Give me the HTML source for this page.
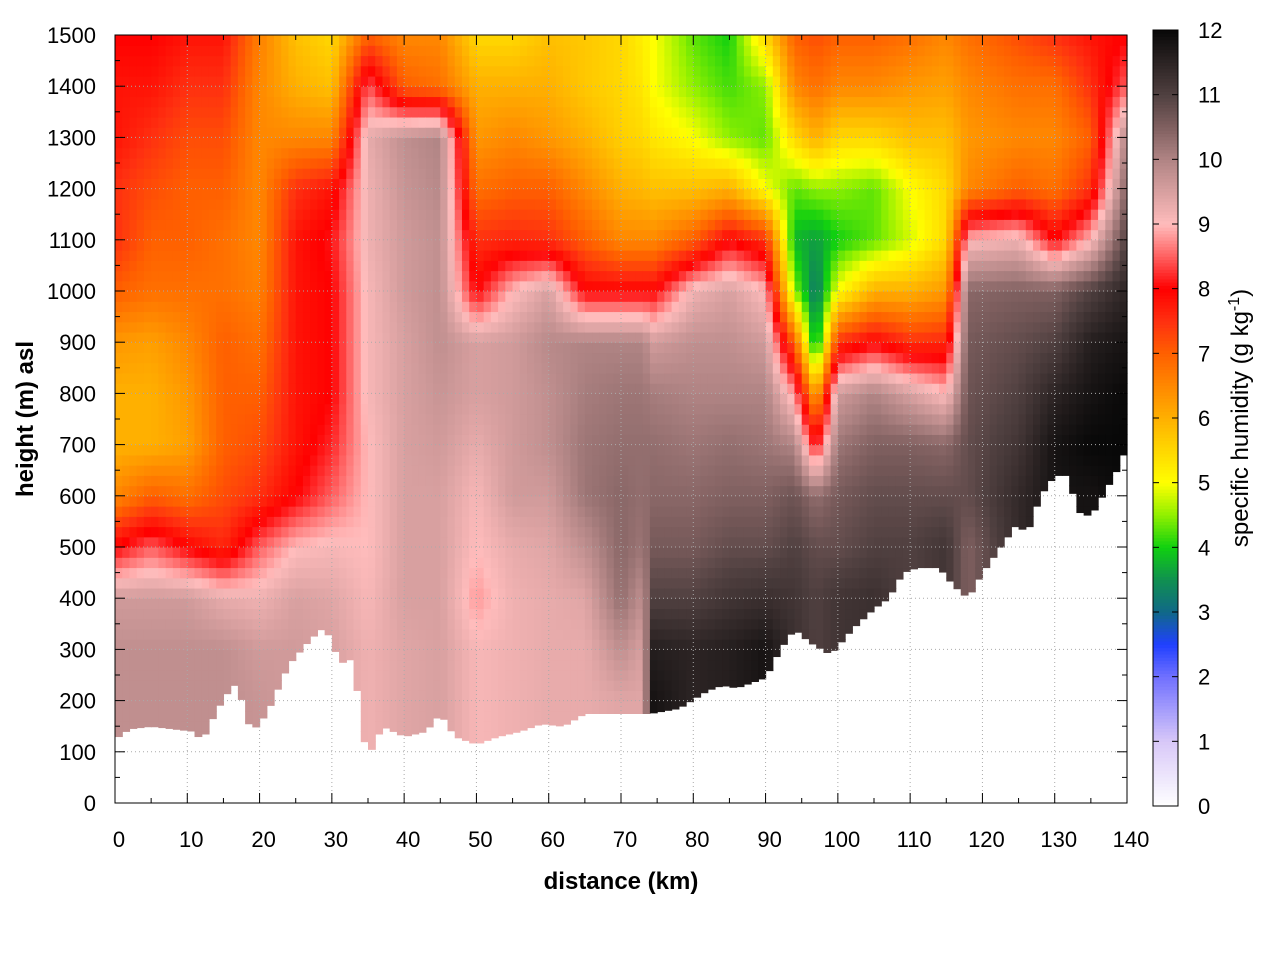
<!DOCTYPE html>
<html><head><meta charset="utf-8">
<style>
body{margin:0;background:#fff;}
svg{display:block;font-family:"Liberation Sans",sans-serif;}
</style></head>
<body>
<svg id="chart" width="1280" height="960" viewBox="0 0 1280 960" xmlns="http://www.w3.org/2000/svg">
<rect width="1280" height="960" fill="#fff"/>
<g id="cells"></g>
<g id="grid"></g>
<g id="axes"></g>
<g id="cbar"></g>
<text x="621" y="889" font-size="24" font-weight="bold" text-anchor="middle">distance (km)</text>
<text transform="translate(33,419) rotate(-90)" font-size="24" font-weight="bold" text-anchor="middle">height (m) asl</text>
<text transform="translate(1248,418) rotate(-90)" font-size="24" text-anchor="middle">specific humidity (g kg<tspan dy="-9" font-size="16">-1</tspan><tspan dy="9">)</tspan></text>
</svg>
<script>
const colX = [0,5,10,15,20,25,30,35,40,45,50,55,60,65,70,73,74.5,80,85,90,94,97,100,105,110,115,118,125,130,135,140];
const levels = [100,200,300,400,500,600,700,800,900,1000,1100,1200,1300,1400,1500];
const q = [
[9.8,9.8,9.8,9.6,8,6.5,6,6,6.3,7,7.5,7.5,7.8,7.8,8],
[9.8,9.8,9.8,9.6,8.5,7,6,6,6.2,6.8,7,7.2,7.5,7.8,8],
[9.8,9.8,9.8,9.6,8,6.8,6.2,6.3,6.5,6.8,7,7,7.2,7.5,7.8],
[9.8,9.8,9.8,9.3,7.6,7.2,7,7,7,6.8,6.8,7,7.2,7.5,7.8],
[9.7,9.7,9.6,9.2,8.5,7.5,7.2,7,6.8,6.6,6.5,6.5,6.5,6.5,6.6],
[9.6,9.6,9.6,9.5,9,8,7.8,7.8,7.8,7.8,7.8,7.5,6.5,6,5.8],
[9.5,9.5,9.5,9.4,9.1,8.5,8.2,8,8,8,8.1,7.8,6.5,5.8,5.5],
[9.2,9.2,9.2,9.1,9,9,9,9.1,9.1,9.1,9.2,9.2,9.3,8.5,7],
[9.4,9.4,9.4,9.5,9.5,9.5,9.5,9.5,9.5,9.6,9.6,9.7,9.8,7,6.5],
[9.5,9.5,9.5,9.5,9.5,9.5,9.6,9.7,9.8,9.8,9.8,9.9,10,6.8,6.5],
[9.1,9.1,9.1,8.8,9,9.1,9.3,9.5,9.5,8,7.5,6.8,6.3,6,5.5],
[9.2,9.2,9.2,9.2,9.3,9.6,9.6,9.6,9.6,9,7.6,7,6.5,6,5.5],
[9.3,9.3,9.3,9.3,9.4,9.6,9.8,9.8,9.9,9.5,7.5,7,6.3,6,5.8],
[9.3,9.3,9.3,9.4,9.8,10.2,10.2,10.1,10,8,7,6.5,6,5.7,5.7],
[9.4,9.4,9.8,10.3,10.4,10.4,10.3,10.2,10,8,6.5,6,5.6,5.5,5.5],
[9.4,9.4,9.5,9.8,10.2,10.3,10.3,10.2,10,8,6.5,5.9,5.5,5.3,5.2],
[11.8,11.8,11.6,11,10.6,10.4,10.3,10.1,9.6,8,6.5,5.8,5.3,5,5],
[11.5,11.5,11.5,11,10.6,10.4,10.2,10,9.8,9.2,7,5.8,5,4.5,4.3],
[11.6,11.6,11.6,11.2,10.8,10.5,10.3,10,9.8,9.5,8,6,4.5,4.2,4],
[11.8,11.8,11.8,11.3,10.8,10.5,10.2,10,9.6,9,7.5,5,4.3,4.5,5.5],
[11.3,11.3,11.3,11.2,11,10.7,10,8.8,7,4.5,3.8,4.3,5.5,6.5,7],
[11,11,11,11,10.8,10.3,8,6,3.5,3.2,3.6,4.5,6,6.8,7.2],
[11.2,11.2,11.2,11.2,10.8,10.6,10.2,9.6,7.5,5,4,4.5,5.5,6.5,7],
[11.3,11.3,11.3,11.3,11,10.8,10.5,10,8,6,4.3,4.3,5.5,6.5,7],
[11,11,11,11,11,10.8,10.5,9.5,7.5,6,4.8,5,5.8,6.3,6.8],
[11.2,11.2,11.2,11.2,11.2,10.8,10.4,9,7.6,6.3,5.5,5.5,5.8,6.2,6.5],
[10.5,10.5,10.5,10.5,10.5,10.8,10.8,10.7,10.6,10.4,9,6.5,6.3,6.5,6.8],
[11.4,11.4,11.4,11.4,11.4,11.4,11.2,11,10.8,10.5,9.2,7,6.5,6.8,7.2],
[11.8,11.8,11.8,11.8,11.8,11.8,11.8,11.5,11,10.5,8,6.8,6.5,6.8,7.5],
[11.8,11.8,11.8,11.8,11.8,11.8,12,11.8,11.6,11,9,7.5,7,7.5,7.8],
[12,12,12,12,12,12,12,12,11.8,11.5,11,10.5,10,8.5,8]
];
const groundX = [0,2,5,8,11,12,14,16,17,18,19,21,24,27,29,31,32,33,34,35,37,40,43,45,47,50,53,56,59,62,65,68,71,74,78,82,84,86,90,92,94,96,99,102,105,107,109,111,114,116,118,120,122,125,126,128,130,132,133,135,137,139,140];
const groundH = [125,145,150,145,140,120,180,225,235,170,140,175,270,320,345,280,270,290,150,90,150,130,140,175,130,115,130,140,155,150,175,175,175,175,185,220,230,225,245,300,340,315,290,340,380,400,450,460,460,425,400,450,490,550,520,600,640,640,570,560,610,660,700];
const xTicks = [0,10,20,30,40,50,60,70,80,90,100,110,120,130,140];
const yTicks = [0,100,200,300,400,500,600,700,800,900,1000,1100,1200,1300,1400,1500];
const cbTicks = [0,1,2,3,4,5,6,7,8,9,10,11,12];
const cmapV = [0,1,2,2.5,3,3.5,4,4.5,5,6,7,7.5,8,8.5,9,9.5,10,10.5,11,12];
const cmapC = ["#ffffff","#d8c8f8","#7070ff","#2040ff","#106888","#109050","#10d010","#90f000","#ffff00","#ffb000","#ff6000","#ff3010","#ff0000","#ff6060","#ffbcbc","#d8a0a0","#b08484","#806060","#504040","#080808"];

const X0=115,X1=1127,Y0=803,Y1=35;
const sx=v=>X0+(v/140)*(X1-X0);
const sy=v=>Y0-(v/1500)*(Y0-Y1);
const NS="http://www.w3.org/2000/svg";
function mk(t,a,p){const e=document.createElementNS(NS,t);for(const k in a)e.setAttribute(k,a[k]);p.appendChild(e);return e;}
function hex(c){return [1,3,5].map(i=>parseInt(c.substr(i,2),16));}
function color(v){
  v=Math.max(0,Math.min(12,v));
  for(let i=0;i<cmapV.length-1;i++){
    if(v<=cmapV[i+1]){const t=(v-cmapV[i])/(cmapV[i+1]-cmapV[i]);const a=hex(cmapC[i]),b=hex(cmapC[i+1]);
      return "rgb("+a.map((x,j)=>Math.round(x+(b[j]-x)*t)).join(",")+")";}
  }
  return cmapC[cmapC.length-1];
}
function interp1(xs,ys,x){
  if(x<=xs[0])return ys[0];
  for(let i=0;i<xs.length-1;i++){if(x<=xs[i+1]){const t=(x-xs[i])/(xs[i+1]-xs[i]);return ys[i]+(ys[i+1]-ys[i])*t;}}
  return ys[ys.length-1];
}
function val(x,h){
  const colVals=q.map(c=>interp1(levels,c,h));
  return interp1(colX,colVals,x);
}
const cells=document.getElementById('cells');
const dx=1,dh=20;
for(let x=0;x<140;x+=dx){
  const g=interp1(groundX,groundH,x+dx/2);
  for(let h=0;h<1500;h+=dh){
    if(h+dh<=g)continue;
    const lo=Math.max(h,g);
    const v=val(x+dx/2,(lo+h+dh)/2);
    const r=mk('rect',{x:sx(x).toFixed(2),y:sy(h+dh).toFixed(2),width:(sx(x+dx)-sx(x)+0.6).toFixed(2),height:(sy(lo)-sy(h+dh)+0.6).toFixed(2),fill:color(v)},cells);
    
    
  }
}
const grid=document.getElementById('grid');
xTicks.forEach(t=>{if(t>0&&t<140){const l=mk('line',{x1:sx(t),x2:sx(t),y1:Y0,y2:Y1,stroke:"#aaa","stroke-width":1,"stroke-dasharray":"1,3"},grid);}});
yTicks.forEach(t=>{if(t>0&&t<1500){const l=mk('line',{x1:X0,x2:X1,y1:sy(t),y2:sy(t),stroke:"#aaa","stroke-width":1,"stroke-dasharray":"1,3"},grid);}});
const ax=document.getElementById('axes');
const fr=mk('rect',{x:X0,y:Y1,width:X1-X0,height:Y0-Y1,fill:"none",stroke:"#000","stroke-width":1},ax);


xTicks.forEach(t=>{
  mk('line',{x1:sx(t),x2:sx(t),y1:Y0,y2:Y0-10,stroke:"#000"},ax);
  mk('line',{x1:sx(t),x2:sx(t),y1:Y1,y2:Y1+10,stroke:"#000"},ax);
  const tx=mk('text',{x:sx(t)+4,y:847,"font-size":22,"text-anchor":"middle"},ax);tx.textContent=t;
  
  
});
for(let t=5;t<140;t+=10){mk('line',{x1:sx(t),x2:sx(t),y1:Y0,y2:Y0-5,stroke:"#000"},ax);mk('line',{x1:sx(t),x2:sx(t),y1:Y1,y2:Y1+5,stroke:"#000"},ax);}
yTicks.forEach(t=>{
  mk('line',{x1:X0,x2:X0+10,y1:sy(t),y2:sy(t),stroke:"#000"},ax);
  mk('line',{x1:X1,x2:X1-10,y1:sy(t),y2:sy(t),stroke:"#000"},ax);
  const tx=mk('text',{x:96,y:sy(t)+8,"font-size":22,"text-anchor":"end"},ax);tx.textContent=t;
  
  
});
for(let t=50;t<1500;t+=100){mk('line',{x1:X0,x2:X0+5,y1:sy(t),y2:sy(t),stroke:"#000"},ax);mk('line',{x1:X1,x2:X1-5,y1:sy(t),y2:sy(t),stroke:"#000"},ax);}
const cb=document.getElementById('cbar');
const CB0=806,CB1=30,CX=1153,CW=25;
const cy=v=>CB0-(v/12)*(CB0-CB1);
for(let v=0;v<12;v+=0.05){mk('rect',{x:CX,y:cy(v+0.05),width:CW,height:(cy(v)-cy(v+0.05)+0.5),fill:color(v+0.025)},cb);}
const cbf=mk('rect',{x:CX,y:CB1,width:CW,height:CB0-CB1,fill:"none",stroke:"#000"},cb);


cbTicks.forEach(t=>{
  mk('line',{x1:CX,x2:CX+6,y1:cy(t),y2:cy(t),stroke:"#000"},cb);
  mk('line',{x1:CX+CW,x2:CX+CW-6,y1:cy(t),y2:cy(t),stroke:"#000"},cb);
  const tx=mk('text',{x:1198,y:cy(t)+8,"font-size":22},cb);tx.textContent=t;
  
  
});
</script>
</body></html>
